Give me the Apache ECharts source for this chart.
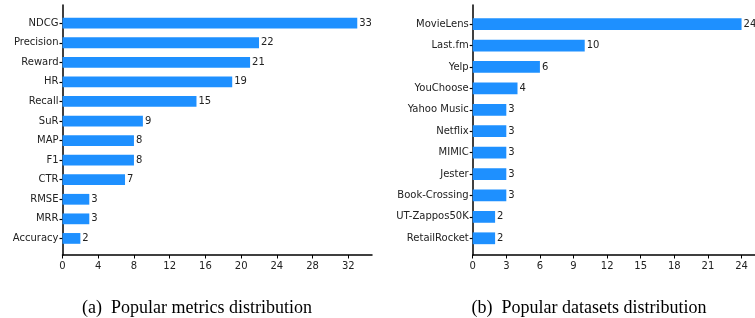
<!DOCTYPE html>
<html><head><meta charset="utf-8">
<script src="https://cdn.jsdelivr.net/npm/echarts@6/dist/echarts.min.js"></script>
<style>html,body{margin:0;padding:0;background:#fff}#c{width:755px;height:318px}</style>
</head><body><div id="c"></div>
<script>
const metricNames = ["NDCG","Precision","Reward","HR","Recall","SuR","MAP","F1","CTR","RMSE","MRR","Accuracy"];
const metricCounts = [33,22,21,19,15,9,8,8,7,3,3,2];
const datasetNames = ["MovieLens","Last.fm","Yelp","YouChoose","Yahoo Music","Netflix","MIMIC","Jester","Book-Crossing","UT-Zappos50K","RetailRocket"];
const datasetCounts = [24,10,6,4,3,3,3,3,3,2,2];
const metricTicks = [0,4,8,12,16,20,24,28,32];
const datasetTicks = [0,3,6,9,12,15,18,21,24];
const captionA = "(a)  Popular metrics distribution";
const captionB = "(b)  Popular datasets distribution";

const FONT = "DejaVu Sans";
const TXT = "#222";
const BAR = "#1E90FF";
const leftMax = 33 * 1.05, rightMax = 24 * 1.05;

const grids = [
  {left: 62.5, top: 13.4, width: 309.5, height: 234.8},   // left bars
  {left: 62.5, top: 5, width: 309.5, height: 250},        // left frame
  {left: 472.7, top: 13.4, width: 282.3, height: 235.6},  // right bars
  {left: 472.7, top: 5, width: 282.3, height: 250}        // right frame
];
function hiddenX(gi, max){return {type:'value', gridIndex:gi, min:0, max:max, show:false};}
function frameX(gi, max, ticks){
  return {type:'value', gridIndex:gi, min:0, max:max,
    axisLine:{show:true, onZero:false, lineStyle:{color:'#000', width:1.5}},
    axisTick:{show:true, length:3.5, customValues:ticks, lineStyle:{color:'#000', width:1}},
    axisLabel:{show:true, customValues:ticks, fontFamily:FONT, fontSize:10, color:TXT, margin:6},
    splitLine:{show:false}};
}
function frameY(gi){
  return {type:'value', gridIndex:gi, min:0, max:1,
    axisLine:{show:true, onZero:false, lineStyle:{color:'#000', width:1.5}},
    axisTick:{show:false}, axisLabel:{show:false}, splitLine:{show:false}};
}
function catY(gi, names){
  return {type:'category', gridIndex:gi, data:names, inverse:true,
    axisLine:{show:false},
    axisTick:{show:true, alignWithLabel:true, length:3, lineStyle:{color:'#000', width:1.2}},
    axisLabel:{fontFamily:FONT, fontSize:10, color:TXT, margin:4}};
}
function barSeries(xi, yi, vals){
  return {type:'bar', xAxisIndex:xi, yAxisIndex:yi, data:vals, barWidth:'55%',
    itemStyle:{color:BAR}, silent:true,
    label:{show:true, position:'right', distance:2, fontFamily:FONT, fontSize:10, color:TXT}};
}

const chart = echarts.init(document.getElementById('c'), null, {renderer:'canvas'});
chart.setOption({
  animation:false,
  grid: grids,
  xAxis: [hiddenX(0,leftMax), frameX(1,leftMax,metricTicks), hiddenX(2,rightMax), frameX(3,rightMax,datasetTicks)],
  yAxis: [catY(0,metricNames), frameY(1), catY(2,datasetNames), frameY(3)],
  series: [barSeries(0,0,metricCounts), barSeries(2,2,datasetCounts)],
  title: [
    {text:captionA, left:192, top:294, textAlign:'center',
     textStyle:{fontFamily:'Liberation Serif', fontSize:18, fontWeight:'normal', color:'#000'}},
    {text:captionB, left:584, top:294, textAlign:'center',
     textStyle:{fontFamily:'Liberation Serif', fontSize:18, fontWeight:'normal', color:'#000'}}
  ]
});
</script></body></html>
